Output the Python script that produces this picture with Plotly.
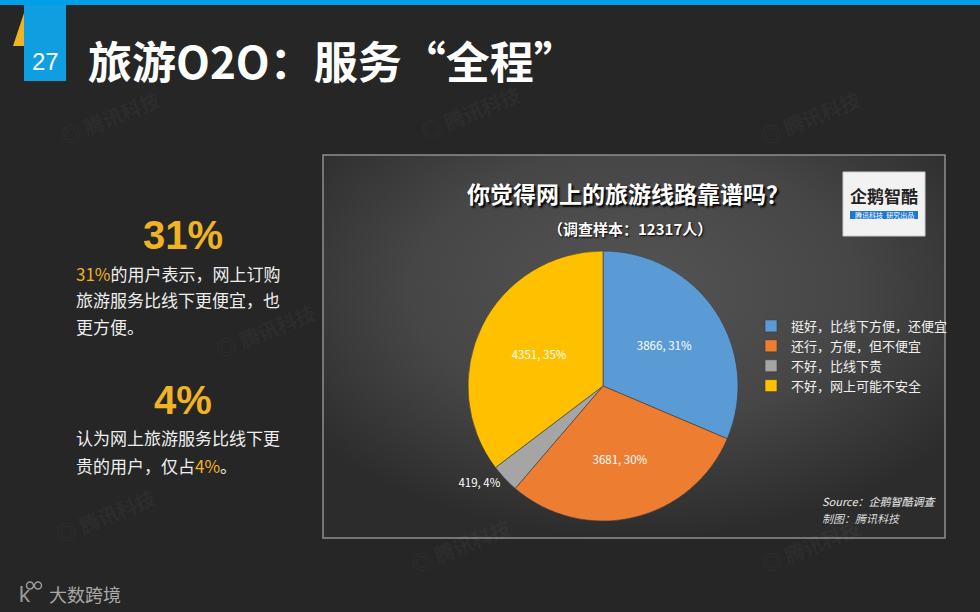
import base64
import plotly.graph_objects as go

# ---- data ----
categories = ["挺好，比线下方便，还便宜", "还行，方便，但不便宜", "不好，比线下贵", "不好，网上可能不安全"]
counts = [3866, 3681, 419, 4351]
pct_labels = [31, 30, 4, 35]
colors = ["#5b9bd5", "#ed7d31", "#a5a5a5", "#ffc000"]

W, H = 980, 612
def px(x): return x / W
def py(y): return 1 - y / H

FONT = "Noto Sans CJK SC"
YEL = "#f0b323"
QIE = "\u4f01\u9e45\u667a\u9177"  # 企鹅智酷

fig = go.Figure()
fig.add_trace(go.Pie(
    labels=categories, values=counts, text=pct_labels,
    texttemplate="%{value}, %{text}%", textinfo="text",
    textposition=["inside", "inside", "outside", "inside"],
    insidetextorientation="horizontal",
    sort=False, direction="clockwise", rotation=0,
    marker=dict(colors=colors, line=dict(color="#3a3a3a", width=0.6)),
    textfont=dict(family=FONT, size=11.5, color="white"),
    outsidetextfont=dict(family=FONT, size=11.5, color="white"),
    domain=dict(x=[px(468), px(738)], y=[py(521), py(251)]),
    hoverinfo="skip", showlegend=True,
))

L, R, T, B = 323, 945, 155, 538

svg = (
    "<svg xmlns='http://www.w3.org/2000/svg' width='622' height='383' preserveAspectRatio='none' viewBox='0 0 622 383'>"
    "<defs><radialGradient id='g' cx='50%' cy='35%' r='65%' gradientUnits='objectBoundingBox'>"
    "<stop offset='0%' stop-color='#545454'/><stop offset='55%' stop-color='#464646'/>"
    "<stop offset='100%' stop-color='#2c2c2c'/></radialGradient></defs>"
    "<rect width='622' height='383' fill='url(#g)'/></svg>"
)
svg_uri = "data:image/svg+xml;base64," + base64.b64encode(svg.encode()).decode()

shapes = []
shapes.append(dict(type="rect", xref="paper", yref="paper", x0=0, x1=1, y0=py(5), y1=1,
                   fillcolor="#00a0e9", line=dict(width=0), layer="below"))
shapes.append(dict(type="path", xref="paper", yref="paper",
                   path=f"M {px(13)} {py(46)} L {px(25)} {py(46)} L {px(25)} {py(10)} Z",
                   fillcolor="#f0b323", line=dict(width=0), layer="below"))
shapes.append(dict(type="rect", xref="paper", yref="paper", x0=px(24), x1=px(66), y0=py(81), y1=py(5),
                   fillcolor="#0f9ee0", line=dict(width=0), layer="below"))
shapes.append(dict(type="rect", xref="paper", yref="paper", x0=px(L), x1=px(R), y0=py(B), y1=py(T),
                   fillcolor="rgba(0,0,0,0)", line=dict(color="#8e8e8e", width=1.5), layer="below"))
shapes.append(dict(type="rect", xref="paper", yref="paper", x0=px(843), x1=px(925), y0=py(236), y1=py(172),
                   fillcolor="#f2f2f2", line=dict(color="#cccccc", width=1), layer="above"))
shapes.append(dict(type="rect", xref="paper", yref="paper", x0=px(850), x1=px(918), y0=py(219), y1=py(211),
                   fillcolor="#1e78d2", line=dict(width=0), layer="above"))
for cx in (30, 38):
    shapes.append(dict(type="circle", xref="paper", yref="paper", x0=px(cx - 3.5), x1=px(cx + 3.5),
                       y0=py(589), y1=py(582), line=dict(color="#9a9a9a", width=1.5)))

images = [dict(source=svg_uri, xref="paper", yref="paper", x=px(L), y=py(T),
               sizex=(R - L) / W, sizey=(B - T) / H, sizing="stretch",
               xanchor="left", yanchor="top", layer="below")]

ann = []
def text(x, y, s, size, color="white", bold=False, xanchor="left", family=FONT, **kw):
    ann.append(dict(x=px(x), y=py(y), xref="paper", yref="paper", text=(f"<b>{s}</b>" if bold else s),
                    showarrow=False, xanchor=xanchor, yanchor="middle",
                    font=dict(family=family, size=size, color=color), **kw))

for (wx, wy) in [(110, 118), (470, 112), (810, 118), (265, 330), (460, 545), (810, 545), (105, 515)]:
    text(wx, wy, "◎ 腾讯科技", 20, color="rgba(255,255,255,0.05)", bold=True, xanchor="center", textangle=-22)

text(45, 62, "27", 24, family="Liberation Sans", xanchor="center")
text(86, 60, "旅游O2O：服务“全程”", 44, bold=True)

text(183, 235, "31%", 40, color=YEL, bold=True, xanchor="center", family="Liberation Sans")
text(74, 273, f"<span style='color:{YEL}'>31%</span>的用户表示，网上订购", 17, color="#eeeeee")
text(74, 299, "旅游服务比线下更便宜，也", 17, color="#eeeeee")
text(74, 326, "更方便。", 17, color="#eeeeee")
text(183, 400, "4%", 40, color=YEL, bold=True, xanchor="center", family="Liberation Sans")
text(74, 437, "认为网上旅游服务比线下更", 17, color="#eeeeee")
text(74, 465, f"贵的用户，仅占<span style='color:{YEL}'>4%</span>。", 17, color="#eeeeee")

ann.append(dict(x=px(628), y=py(193), xref="paper", yref="paper", text="<b>你觉得网上的旅游线路靠谱吗？</b>",
                showarrow=False, xanchor="center", yanchor="middle",
                font=dict(family=FONT, size=23, color="white", shadow="2px 2px 2px #000")))
ann.append(dict(x=px(630), y=py(228), xref="paper", yref="paper", text="<b>（调查样本：12317人）</b>",
                showarrow=False, xanchor="center", yanchor="middle",
                font=dict(family=FONT, size=15, color="white", shadow="1px 1px 2px #000")))

text(884, 196, f"<b>{QIE}</b>", 17, color="#222222", xanchor="center")
text(884, 215, "腾讯科技  研究出品", 7, color="white", xanchor="center")

text(820, 501, f"<i>Source：{QIE}调查</i>", 11, color="#eeeeee")
text(820, 518, "<i>制图：腾讯科技</i>", 11, color="#dddddd")

text(25, 594, "k", 22, color="#9a9a9a", family="Liberation Sans", xanchor="center")
text(47, 594, "大数跨境", 18, color="#a8a8a8")

fig.update_layout(
    width=W, height=H, margin=dict(l=0, r=0, t=0, b=0),
    paper_bgcolor="#262626", plot_bgcolor="#262626",
    shapes=shapes, annotations=ann, images=images,
    legend=dict(x=px(751), y=py(311), xanchor="left", yanchor="top", bgcolor="rgba(0,0,0,0)",
                font=dict(family=FONT, size=13, color="#f0f0f0"), itemclick=False, itemwidth=30),
)
fig.write_html("out.html", config={"displayModeBar": False},
               post_script="document.body.style.margin='0';document.body.style.background='#262626';")
